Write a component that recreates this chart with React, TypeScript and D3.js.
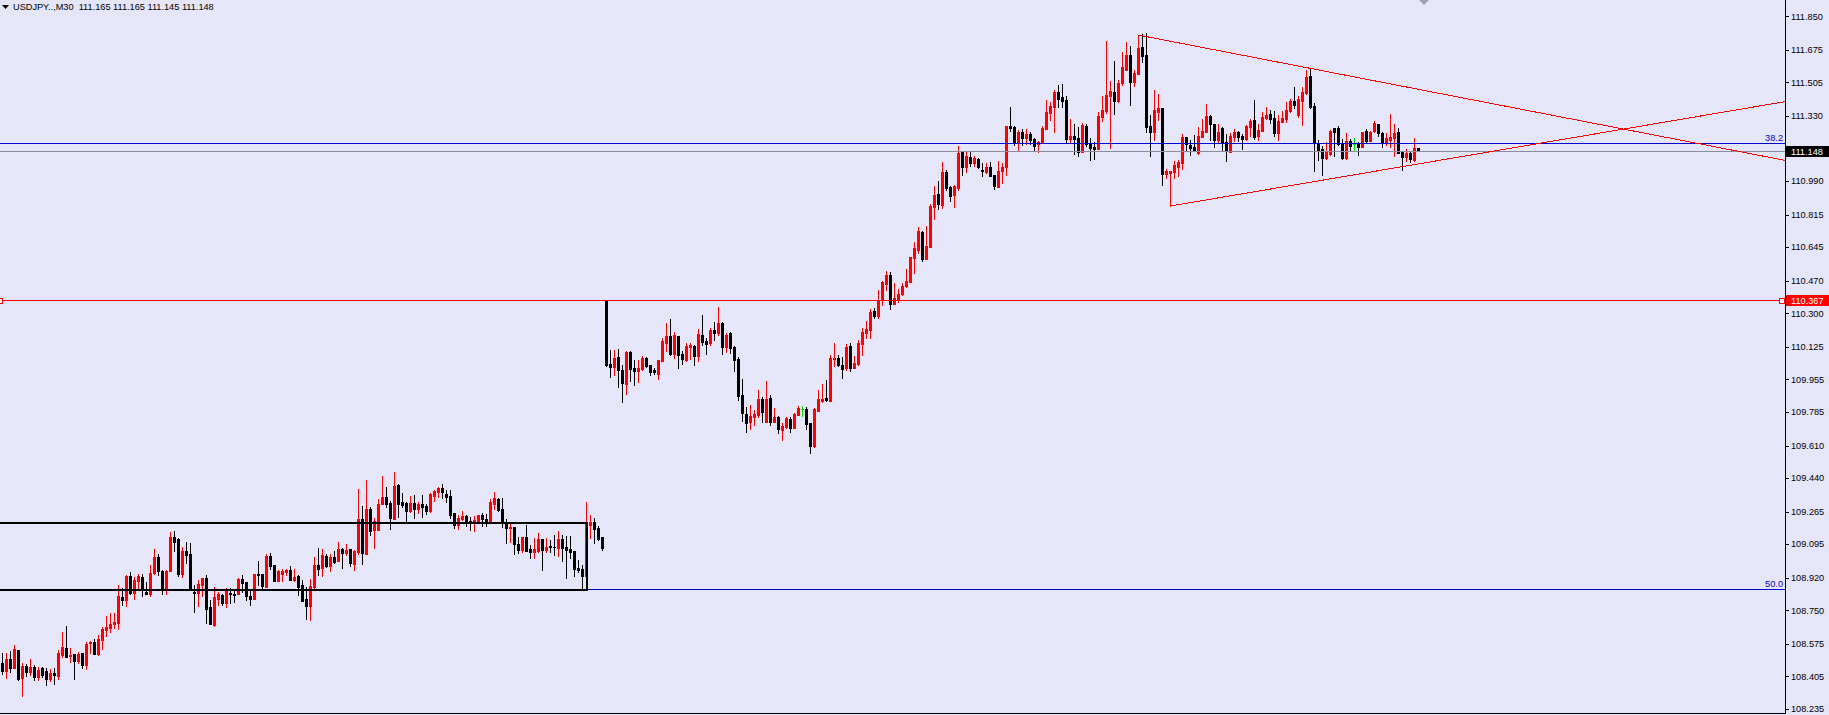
import React from 'react';
import * as d3 from 'd3';

// ---- DATA ----
const TITLE = 'USDJPY..,M30  111.165 111.165 111.145 111.148';

const OPEN = [
108.475,108.435,108.495,108.447,108.542,108.398,108.461,108.428,108.454,108.403,
108.448,108.431,108.393,108.424,108.408,108.516,108.553,108.513,108.523,108.483,
108.527,108.464,108.581,108.584,108.522,108.595,108.647,108.657,108.676,108.685,
108.819,108.803,108.929,108.842,108.904,108.924,108.847,108.837,108.944,109.028,
108.957,108.856,108.955,109.132,109.122,108.939,109.059,109.044,108.847,108.842,
108.882,108.918,108.767,108.671,108.810,108.830,108.788,108.840,108.837,108.837,
108.913,108.897,108.824,108.810,108.939,108.939,108.873,109.033,108.986,108.903,
108.939,108.950,108.960,108.908,108.930,108.882,108.809,108.772,108.870,108.986,
108.969,109.035,108.983,109.028,109.007,109.070,109.049,109.070,108.993,109.054,
109.226,109.044,109.278,109.171,109.171,109.304,109.341,109.310,109.228,109.404,
109.315,109.310,109.270,109.310,109.278,109.304,109.294,109.270,109.346,109.367,
109.388,109.357,109.346,109.258,109.197,109.226,109.242,109.216,109.211,109.216,
109.247,109.226,109.211,109.306,109.331,109.278,109.207,109.179,109.184,109.096,
109.064,109.132,109.070,109.056,109.061,109.122,109.064,109.085,109.082,109.075,
109.122,109.082,109.070,109.059,108.970,108.965,108.929,109.195,109.211,109.179,
109.132,110.365,110.035,110.020,110.072,110.004,109.931,110.098,110.014,109.999,
110.009,110.067,110.030,110.004,109.983,110.053,110.147,110.181,110.087,110.181,
110.087,110.056,110.126,110.129,110.077,110.187,110.155,110.145,110.213,110.199,
110.249,110.124,110.197,110.124,110.061,109.873,109.774,109.732,109.760,109.769,
109.852,109.734,109.858,109.732,109.759,109.691,109.708,109.750,109.701,109.769,
109.798,109.800,109.727,109.607,109.790,109.844,109.858,109.842,110.060,110.067,
110.030,110.014,110.129,110.014,110.035,110.140,110.197,110.213,110.312,110.286,
110.369,110.454,110.500,110.348,110.374,110.400,110.442,110.463,110.588,110.630,
110.724,110.583,110.646,110.856,110.922,110.865,111.037,110.959,110.917,110.954,
111.142,111.063,111.116,111.084,111.105,111.048,111.037,111.063,111.022,110.959,
111.042,111.065,111.277,111.272,111.194,111.246,111.215,111.236,111.209,111.183,
111.190,111.262,111.345,111.376,111.455,111.429,111.413,111.209,111.225,111.215,
111.142,111.277,111.183,111.168,111.159,111.324,111.356,111.434,111.455,111.410,
111.503,111.570,111.648,111.507,111.549,111.688,111.648,111.277,111.246,111.350,
111.371,111.028,111.034,111.039,111.065,111.086,111.220,111.178,111.169,111.138,
111.220,111.246,111.330,111.288,111.204,111.267,111.194,111.143,111.222,111.246,
111.225,111.209,111.272,111.309,111.225,111.251,111.319,111.340,111.319,111.241,
111.300,111.314,111.356,111.408,111.336,111.408,111.450,111.538,111.382,111.189,
111.157,111.112,111.131,111.267,111.267,111.190,111.112,111.199,111.183,111.183,
111.169,111.251,111.201,111.251,111.288,111.242,111.194,111.204,111.215,111.246,
111.141,111.115,111.136,111.102,111.165
];

const HIGH = [
108.525,108.525,108.537,108.569,108.542,108.473,108.468,108.495,108.466,108.452,
108.452,108.448,108.442,108.447,108.542,108.636,108.668,108.551,108.523,108.534,
108.527,108.586,108.589,108.600,108.621,108.664,108.720,108.737,108.734,108.882,
108.864,108.934,108.950,108.922,108.939,108.939,108.897,108.986,109.070,109.044,
108.960,108.960,109.158,109.164,109.129,109.078,109.106,109.099,108.882,108.908,
108.918,108.932,108.804,108.870,108.847,108.837,108.864,108.864,108.856,108.918,
108.934,108.897,108.859,108.939,109.007,108.939,109.044,109.049,108.986,108.960,
108.965,108.967,108.981,108.965,108.934,108.908,108.870,108.913,109.028,109.075,
109.070,109.044,109.044,109.059,109.106,109.075,109.096,109.070,109.064,109.383,
109.294,109.430,109.289,109.231,109.331,109.451,109.393,109.320,109.472,109.409,
109.362,109.315,109.346,109.352,109.315,109.352,109.304,109.362,109.378,109.393,
109.409,109.378,109.378,109.258,109.247,109.268,109.247,109.237,109.242,109.247,
109.258,109.252,109.331,109.367,109.336,109.336,109.226,109.205,109.184,109.134,
109.132,109.195,109.091,109.127,109.153,109.122,109.127,109.117,109.143,109.164,
109.143,109.138,109.138,109.059,109.012,108.986,109.315,109.247,109.232,109.190,
109.132,110.367,110.108,110.108,110.113,110.030,110.103,110.103,110.056,110.056,
110.077,110.072,110.030,110.014,110.056,110.171,110.249,110.270,110.202,110.181,
110.103,110.145,110.145,110.134,110.218,110.291,110.171,110.223,110.254,110.333,
110.254,110.197,110.202,110.129,110.072,109.957,109.812,109.821,109.795,109.899,
109.863,109.946,109.873,109.805,109.764,109.727,109.760,109.760,109.779,109.816,
109.816,109.811,109.727,109.805,109.899,109.931,109.952,110.082,110.145,110.082,
110.072,110.140,110.145,110.077,110.160,110.223,110.260,110.322,110.328,110.421,
110.468,110.520,110.515,110.458,110.427,110.458,110.531,110.594,110.672,110.750,
110.729,110.755,110.870,110.964,110.990,111.089,111.048,110.964,110.969,111.173,
111.147,111.142,111.147,111.121,111.110,111.084,111.084,111.089,111.022,111.095,
111.084,111.277,111.376,111.277,111.256,111.262,111.262,111.246,111.215,111.199,
111.277,111.413,111.403,111.465,111.491,111.497,111.434,111.314,111.288,111.272,
111.293,111.288,111.215,111.194,111.350,111.434,111.721,111.512,111.617,111.517,
111.664,111.716,111.695,111.570,111.752,111.758,111.763,111.335,111.465,111.444,
111.371,111.055,111.044,111.095,111.100,111.236,111.220,111.204,111.230,111.272,
111.314,111.392,111.335,111.288,111.288,111.272,111.236,111.241,111.262,111.251,
111.236,111.282,111.314,111.413,111.288,111.350,111.376,111.361,111.356,111.335,
111.356,111.403,111.418,111.481,111.434,111.481,111.570,111.575,111.397,111.204,
111.173,111.194,111.256,111.267,111.277,111.209,111.241,111.209,111.215,111.194,
111.246,111.262,111.251,111.303,111.288,111.246,111.241,111.340,111.288,111.267,
111.141,111.157,111.147,111.215,111.165
];

const LOW = [
108.417,108.398,108.429,108.447,108.386,108.304,108.408,108.412,108.386,108.386,
108.403,108.360,108.381,108.363,108.391,108.508,108.508,108.480,108.391,108.473,
108.450,108.443,108.525,108.522,108.516,108.546,108.616,108.636,108.657,108.654,
108.777,108.774,108.835,108.809,108.859,108.824,108.837,108.824,108.939,108.934,
108.835,108.835,108.955,109.059,108.929,108.925,108.998,108.856,108.741,108.772,
108.824,108.685,108.680,108.668,108.777,108.777,108.767,108.790,108.793,108.833,
108.847,108.803,108.777,108.809,108.882,108.864,108.870,108.967,108.903,108.903,
108.903,108.932,108.908,108.903,108.830,108.800,108.704,108.699,108.864,108.934,
108.930,108.977,108.957,108.998,109.007,108.972,109.038,108.981,108.960,109.044,
108.993,109.044,109.144,109.077,109.171,109.304,109.291,109.176,109.228,109.238,
109.291,109.218,109.264,109.233,109.259,109.238,109.254,109.264,109.320,109.343,
109.338,109.317,109.233,109.179,109.176,109.221,109.191,109.169,109.165,109.216,
109.191,109.191,109.207,109.280,109.270,109.186,109.103,109.108,109.045,109.049,
109.056,109.061,109.023,109.024,109.056,108.960,109.054,109.054,109.038,109.033,
109.007,108.918,109.023,108.929,108.950,108.861,108.929,109.127,109.103,109.118,
109.066,110.025,109.967,109.978,109.915,109.837,109.879,109.946,109.926,109.941,
110.004,110.020,109.978,109.983,109.957,110.053,110.103,110.082,110.068,110.014,
110.035,110.051,110.061,110.030,110.051,110.134,110.087,110.134,110.160,110.187,
110.087,110.098,110.093,109.999,109.847,109.739,109.680,109.698,109.719,109.760,
109.734,109.734,109.719,109.732,109.677,109.638,109.703,109.682,109.701,109.769,
109.765,109.698,109.571,109.604,109.790,109.837,109.844,109.842,110.025,110.025,
109.962,110.004,109.999,110.014,110.030,110.082,110.171,110.171,110.275,110.275,
110.343,110.421,110.322,110.348,110.359,110.395,110.437,110.463,110.510,110.614,
110.573,110.583,110.646,110.792,110.844,110.849,110.943,110.886,110.855,110.943,
111.022,111.037,111.069,111.069,111.058,111.016,111.032,111.016,110.949,110.959,
110.980,111.021,111.251,111.178,111.147,111.178,111.183,111.183,111.152,111.143,
111.189,111.262,111.309,111.246,111.376,111.376,111.194,111.189,111.133,111.121,
111.142,111.173,111.100,111.107,111.159,111.302,111.345,111.164,111.340,111.403,
111.491,111.570,111.387,111.486,111.549,111.611,111.246,111.121,111.204,111.309,
110.969,111.008,110.860,111.008,111.018,111.055,111.152,111.128,111.149,111.133,
111.220,111.246,111.204,111.169,111.194,111.149,111.096,111.143,111.201,111.201,
111.159,111.204,111.225,111.211,111.204,111.251,111.314,111.293,111.225,111.204,
111.298,111.298,111.350,111.371,111.324,111.281,111.444,111.371,111.044,111.101,
111.023,111.107,111.128,111.121,111.178,111.107,111.107,111.149,111.149,111.128,
111.169,111.194,111.201,111.246,111.225,111.168,111.178,111.169,111.122,111.138,
111.049,111.096,111.091,111.096,111.145
];

const CLOSE = [
108.435,108.495,108.450,108.548,108.393,108.461,108.428,108.454,108.403,108.438,
108.414,108.391,108.424,108.414,108.527,108.558,108.508,108.518,108.487,108.523,
108.464,108.575,108.586,108.522,108.600,108.652,108.663,108.678,108.689,108.824,
108.803,108.929,108.842,108.908,108.929,108.856,108.837,108.944,109.028,108.953,
108.856,108.957,109.132,109.106,108.939,109.059,109.038,108.856,108.842,108.885,
108.918,108.757,108.680,108.819,108.837,108.788,108.850,108.835,108.830,108.913,
108.892,108.824,108.809,108.939,108.936,108.876,109.033,108.981,108.903,108.957,
108.957,108.960,108.908,108.924,108.871,108.800,108.772,108.877,108.986,108.965,
109.038,108.981,109.028,109.002,109.070,109.050,109.064,108.997,109.059,109.226,
109.049,109.278,109.165,109.216,109.304,109.341,109.304,109.233,109.398,109.304,
109.301,109.270,109.310,109.278,109.304,109.291,109.270,109.357,109.372,109.388,
109.365,109.343,109.249,109.197,109.232,109.242,109.212,109.212,109.221,109.247,
109.226,109.216,109.315,109.336,109.273,109.207,109.181,109.184,109.094,109.064,
109.132,109.061,109.054,109.070,109.122,109.064,109.080,109.080,109.078,109.122,
109.075,109.066,109.054,108.967,108.960,108.929,109.200,109.211,109.176,109.124,
109.075,110.030,110.020,110.067,110.004,109.936,110.098,110.009,109.999,110.014,
110.067,110.025,109.995,109.993,110.056,110.155,110.181,110.087,110.187,110.082,
110.061,110.129,110.134,110.077,110.192,110.150,110.141,110.213,110.199,110.249,
110.124,110.187,110.119,110.056,109.868,109.781,109.729,109.764,109.774,109.852,
109.786,109.852,109.732,109.759,109.696,109.713,109.755,109.701,109.776,109.807,
109.798,109.724,109.607,109.800,109.852,109.852,109.847,110.067,110.067,110.030,
110.009,110.124,110.014,110.040,110.145,110.202,110.218,110.307,110.286,110.369,
110.465,110.500,110.348,110.380,110.400,110.442,110.468,110.594,110.641,110.729,
110.583,110.651,110.860,110.917,110.870,111.037,110.954,110.912,110.964,111.136,
111.063,111.121,111.084,111.110,111.063,111.044,111.063,111.016,110.964,111.042,
111.063,111.277,111.267,111.194,111.246,111.215,111.236,111.204,111.173,111.194,
111.267,111.350,111.382,111.455,111.418,111.408,111.209,111.225,111.209,111.142,
111.282,111.183,111.162,111.159,111.330,111.361,111.439,111.460,111.410,111.503,
111.585,111.648,111.507,111.556,111.684,111.643,111.272,111.246,111.361,111.371,
111.027,111.044,111.044,111.074,111.091,111.222,111.183,111.162,111.154,111.225,
111.251,111.330,111.286,111.204,111.246,111.190,111.149,111.225,111.246,111.220,
111.211,111.277,111.303,111.222,111.256,111.324,111.335,111.314,111.241,111.303,
111.319,111.361,111.408,111.387,111.418,111.455,111.533,111.376,111.189,111.152,
111.112,111.141,111.251,111.246,111.183,111.112,111.199,111.175,111.183,111.169,
111.246,111.201,111.246,111.293,111.242,111.194,111.215,111.222,111.241,111.138,
111.115,111.136,111.107,111.162,111.148
];

const PRICE_TICKS = [
  '111.850', '111.675', '111.505', '111.330', '110.990', '110.815', '110.645',
  '110.470', '110.300', '110.125', '109.955', '109.785', '109.610', '109.440',
  '109.265', '109.095', '108.920', '108.750', '108.575', '108.405', '108.235'
];

const PRICE_RANGE = [108.214, 111.935];
const RED_LEVEL = 110.367;
const BID = 111.148;
const FIB_LABELS = ['38.2', '50.0'];
const FIB_PRICES = [111.187, 108.859];
const BOX_PRICES = [109.207, 108.857];
const BOX_END_INDEX = 146;
const UPPER_TREND = [[284, 111.752], [349, 111.489]];
const LOWER_TREND = [[292, 110.860], [349, 111.062]];

// ---- LAYOUT ----
const W = 1829;
const H = 715;
const AXIS_X = 1785;
const PLOT_BOTTOM = 713;
const BG = '#E6E6FA';
const UP = '#FF0000';
const DOWN = '#000000';
const DOJI = '#00E000';
const FIB_COLOR = '#0000CD';
const FONT = '"Liberation Sans", Arial, sans-serif';
const FS = 9.2;

export default function App() {
  const n = OPEN.length;
  const y = d3.scaleLinear().domain(PRICE_RANGE).range([PLOT_BOTTOM, 0]);
  const x = d3
    .scaleBand<number>()
    .domain(d3.range(n))
    .range([1, 1420])
    .paddingInner(0.25)
    .paddingOuter(0);
  const bw = x.bandwidth();
  const cx = (i: number) => (x(i) as number) + bw / 2;
  const ry = (p: number) => Math.round(y(p));

  const candles = d3.range(n).map((i) => {
    const o = OPEN[i], c = CLOSE[i], h = HIGH[i], l = LOW[i];
    const col = c > o ? UP : c < o ? DOWN : DOJI;
    const bt = ry(Math.max(o, c));
    const bb = ry(Math.min(o, c));
    const wt = ry(h);
    const wb = ry(l);
    return (
      <g key={i} fill={col}>
        <rect x={cx(i) - 0.5} y={wt} width={1} height={wb - wt + 1} />
        <rect x={x(i)} y={bt} width={bw} height={Math.max(1, bb - bt + 1)} />
      </g>
    );
  });

  const trendPath = (pts: number[][]) => {
    const x1 = cx(pts[0][0]), y1 = y(pts[0][1]);
    const x2 = cx(pts[1][0]), y2 = y(pts[1][1]);
    const slope = (y2 - y1) / (x2 - x1);
    const yEnd = y1 + slope * (AXIS_X - x1);
    return `M${x1},${y1}L${AXIS_X},${yEnd}`;
  };

  const hLine = (p: number) => ry(p) + 0.5;
  const boxTop = ry(BOX_PRICES[0]);
  const boxBot = ry(BOX_PRICES[1]);
  const boxRight = Math.round(cx(BOX_END_INDEX));

  const redY = hLine(RED_LEVEL);
  const bidY = hLine(BID);

  return (
    <svg
      width={W}
      height={H}
      style={{ position: 'absolute', left: 0, top: 0, display: 'block' }}
      fontFamily={FONT}
    >
      <rect x={0} y={0} width={W} height={H} fill={BG} />

      {/* candles */}
      <g shapeRendering="crispEdges">{candles}</g>

      {/* fib levels */}
      <g shapeRendering="crispEdges">
        {FIB_PRICES.map((p, k) => (
          <g key={k}>
            <line x1={0} x2={AXIS_X} y1={hLine(p)} y2={hLine(p)} stroke={FIB_COLOR} strokeWidth={1} />
            <text x={AXIS_X - 2} y={hLine(p) - 2.5} fontSize={FS} fill={FIB_COLOR} textAnchor="end">
              {FIB_LABELS[k]}
            </text>
          </g>
        ))}
      </g>

      {/* bid line */}
      <line x1={0} x2={AXIS_X} y1={bidY} y2={bidY} stroke="#8C8C9A" strokeWidth={1} shapeRendering="crispEdges" />

      {/* rectangle */}
      <g stroke="#000" strokeWidth={2} fill="none" shapeRendering="crispEdges">
        <path d={`M-5,${boxTop}L${boxRight},${boxTop}L${boxRight},${boxBot}L-5,${boxBot}`} />
      </g>

      {/* trend lines */}
      <g stroke={UP} strokeWidth={1} fill="none" shapeRendering="crispEdges">
        <path d={trendPath(UPPER_TREND)} />
        <path d={trendPath(LOWER_TREND)} />
      </g>

      {/* red horizontal level */}
      <line x1={0} x2={AXIS_X} y1={redY} y2={redY} stroke={UP} strokeWidth={1} shapeRendering="crispEdges" />
      <rect x={-2.5} y={redY - 2.5} width={5} height={5} fill="#fff" stroke={UP} strokeWidth={1} shapeRendering="crispEdges" />
      <rect x={AXIS_X - 5.5} y={redY - 2.5} width={5} height={5} fill="#fff" stroke={UP} strokeWidth={1} shapeRendering="crispEdges" />

      {/* shift marker */}
      <path d="M1419,0L1429,0L1424,5Z" fill="#A0A0A8" />

      {/* axes frame */}
      <g stroke="#000" strokeWidth={1} shapeRendering="crispEdges">
        <line x1={AXIS_X + 0.5} x2={AXIS_X + 0.5} y1={0} y2={PLOT_BOTTOM + 1} />
        <line x1={0} x2={AXIS_X + 1} y1={PLOT_BOTTOM + 0.5} y2={PLOT_BOTTOM + 0.5} />
        {PRICE_TICKS.map((t) => (
          <line key={t} x1={AXIS_X + 1} x2={AXIS_X + 4} y1={hLine(+t)} y2={hLine(+t)} />
        ))}
      </g>
      {PRICE_TICKS.map((t) => (
        <text key={t} x={AXIS_X + 6} y={y(+t) + 3.3} fontSize={FS} fill="#000">
          {t}
        </text>
      ))}

      {/* price labels */}
      <rect x={AXIS_X + 1} y={bidY - 5.5} width={W - AXIS_X} height={11} fill="#000" shapeRendering="crispEdges" />
      <text x={AXIS_X + 6} y={bidY + 3.3} fontSize={FS} fill="#fff">{BID.toFixed(3)}</text>
      <rect x={AXIS_X + 1} y={redY - 5.5} width={W - AXIS_X} height={11} fill={UP} shapeRendering="crispEdges" />
      <text x={AXIS_X + 6} y={redY + 3.3} fontSize={FS} fill="#fff">{RED_LEVEL.toFixed(3)}</text>

      {/* title */}
      <path d="M2,5L9,5L5.5,9Z" fill="#000" />
      <text x={13} y={9.5} fontSize={FS} fill="#000" style={{ whiteSpace: 'pre' }}>
        {TITLE}
      </text>
    </svg>
  );
}
